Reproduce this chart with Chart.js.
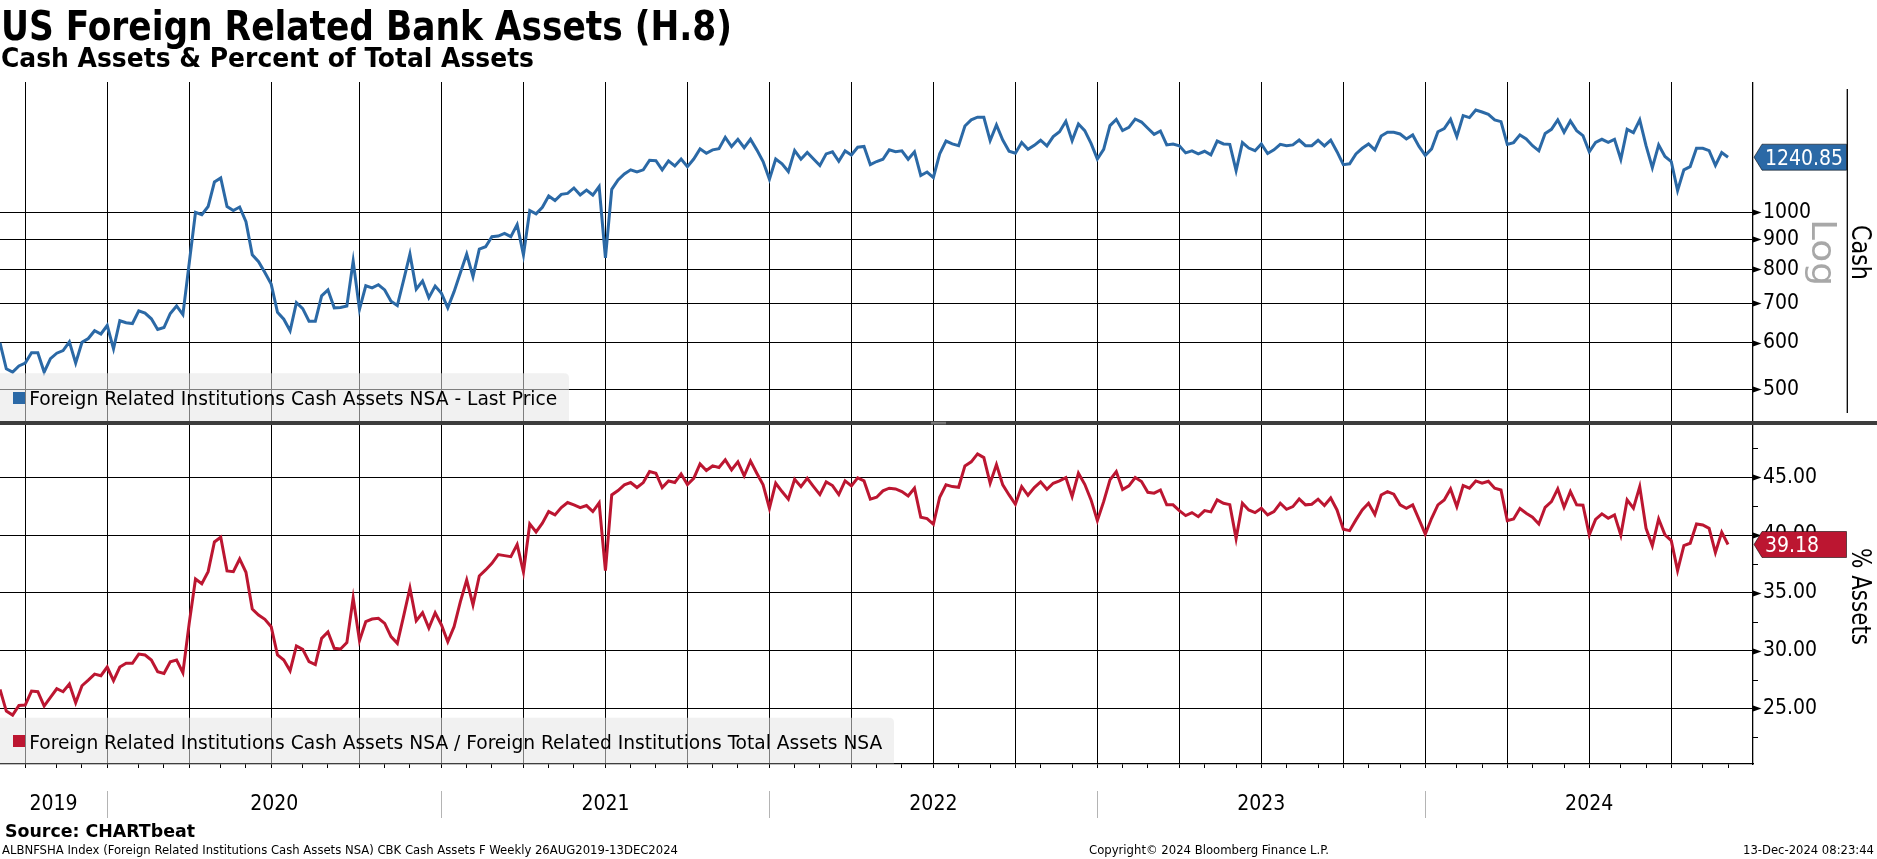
<!DOCTYPE html>
<html lang="en"><head><meta charset="utf-8"><title>US Foreign Related Bank Assets (H.8)</title>
<script src="https://cdn.jsdelivr.net/npm/chart.js@4.4.1/dist/chart.umd.min.js"></script>
<style>
html,body{margin:0;padding:0;background:#fff;}
body{width:1877px;height:859px;position:relative;overflow:hidden;}
canvas{position:absolute;left:0;display:block;}
#cTop{top:82px;width:1877px;height:339px;}
#cBot{top:425px;width:1877px;height:434px;}
#ov{position:absolute;left:0;top:0;pointer-events:none;}
</style></head><body>
<canvas id="cTop" width="1877" height="339"></canvas>
<canvas id="cBot" width="1877" height="434"></canvas>
<svg id="ov" width="1877" height="859" xmlns="http://www.w3.org/2000/svg"></svg>
<script>
// ---------------- DATA ----------------
const firstWeek = '2019-09-04';           // first weekly (Wednesday) observation shown
const cashAssets = [
 600, 542, 535, 548, 554, 577, 577, 535, 564, 576,
 582, 602, 554, 601, 610, 629, 621, 642, 586, 654,
 649, 647, 680, 674, 659, 632, 637, 673, 693, 670,
 819, 1000, 991, 1023, 1126, 1144, 1023, 1007, 1021, 964,
 847, 824, 790, 755, 676, 658, 629, 702, 686, 653,
 653, 721, 738, 688, 689, 693, 826, 684, 750, 744,
 753, 738, 706, 694, 767, 849, 740, 764, 716, 749,
 728, 688, 733, 789, 849, 777, 866, 874, 909, 911,
 921, 909, 953, 847, 1007, 994, 1020, 1066, 1047, 1073,
 1077, 1100, 1070, 1091, 1070, 1106, 837, 1094, 1135, 1162,
 1181, 1171, 1181, 1226, 1224, 1181, 1223, 1199, 1232, 1196,
 1232, 1282, 1260, 1277, 1283, 1341, 1294, 1331, 1288, 1331,
 1277, 1220, 1138, 1232, 1209, 1173, 1273, 1231, 1264, 1232,
 1201, 1257, 1267, 1221, 1272, 1252, 1290, 1294, 1205, 1220,
 1231, 1277, 1268, 1272, 1231, 1267, 1155, 1171, 1146, 1257,
 1322, 1307, 1298, 1402, 1436, 1451, 1451, 1324, 1408, 1327,
 1270, 1260, 1314, 1280, 1300, 1326, 1297, 1345, 1371, 1428,
 1324, 1413, 1377, 1310, 1232, 1280, 1404, 1439, 1377, 1395,
 1441, 1424, 1390, 1357, 1375, 1302, 1307, 1298, 1262, 1272,
 1257, 1270, 1252, 1322, 1307, 1305, 1177, 1314, 1286, 1273,
 1307, 1259, 1277, 1305, 1298, 1302, 1327, 1298, 1298, 1326,
 1297, 1327, 1268, 1205, 1209, 1257, 1285, 1307, 1277, 1348,
 1368, 1368, 1359, 1333, 1354, 1294, 1250, 1282, 1371, 1388,
 1439, 1345, 1460, 1449, 1493, 1481, 1468, 1436, 1426, 1305,
 1314, 1354, 1333, 1298, 1272, 1362, 1384, 1436, 1368, 1430,
 1377, 1350, 1267, 1315, 1331, 1315, 1331, 1231, 1384, 1366,
 1436, 1298, 1191, 1302, 1244, 1220, 1089, 1181, 1196, 1285,
 1285, 1273, 1202, 1264, 1240.85
];
const pctOfAssets = [
 26.64, 24.77, 24.42, 25.26, 25.29, 26.50, 26.44, 25.20, 25.95, 26.70,
 26.44, 27.11, 25.49, 26.96, 27.45, 27.97, 27.83, 28.58, 27.40, 28.58,
 28.90, 28.90, 29.70, 29.62, 29.19, 28.18, 28.03, 29.04, 29.19, 28.09,
 32.36, 36.20, 35.79, 36.83, 39.40, 39.81, 36.89, 36.83, 37.93, 36.78,
 33.60, 33.08, 32.71, 32.07, 29.62, 29.19, 28.26, 30.40, 30.11, 29.04,
 28.78, 31.06, 31.61, 30.20, 30.14, 30.69, 34.55, 30.86, 32.50, 32.73,
 32.79, 32.36, 31.21, 30.63, 32.99, 35.42, 32.59, 33.28, 31.96, 33.28,
 32.22, 30.77, 32.07, 34.24, 36.11, 33.95, 36.46, 36.98, 37.55, 38.31,
 38.22, 38.13, 39.17, 36.80, 40.96, 40.27, 41.02, 42.03, 41.74, 42.37,
 42.81, 42.61, 42.37, 42.55, 42.03, 42.78, 36.92, 43.47, 43.85, 44.34,
 44.54, 44.11, 44.54, 45.49, 45.35, 44.11, 44.68, 44.54, 45.29, 44.37,
 44.91, 46.15, 45.58, 45.98, 45.84, 46.50, 45.64, 46.33, 45.12, 46.41,
 45.35, 44.34, 42.32, 44.48, 43.76, 43.10, 44.83, 44.19, 44.91, 44.19,
 43.50, 44.60, 44.28, 43.50, 44.68, 44.25, 44.94, 44.68, 43.10, 43.27,
 43.82, 44.05, 43.99, 43.76, 43.38, 44.05, 41.54, 41.42, 40.93, 43.27,
 44.34, 44.19, 44.13, 45.98, 46.33, 47.02, 46.70, 44.48, 46.10, 44.34,
 43.47, 42.66, 44.19, 43.44, 44.11, 44.60, 43.96, 44.48, 44.68, 44.97,
 43.33, 45.35, 44.39, 43.04, 41.25, 42.89, 44.77, 45.49, 43.93, 44.25,
 44.97, 44.63, 43.70, 43.62, 43.90, 42.61, 42.61, 42.11, 41.68, 41.94,
 41.59, 42.11, 42.00, 43.04, 42.75, 42.63, 39.69, 42.75, 42.17, 41.94,
 42.32, 41.74, 42.03, 42.75, 42.23, 42.46, 43.12, 42.61, 42.66, 43.10,
 42.55, 43.21, 42.17, 40.50, 40.38, 41.31, 42.17, 42.75, 41.77, 43.47,
 43.76, 43.53, 42.61, 42.32, 42.61, 41.36, 40.09, 41.45, 42.61, 43.04,
 43.99, 42.46, 44.28, 44.05, 44.68, 44.48, 44.65, 44.05, 43.90, 41.25,
 41.39, 42.29, 41.88, 41.54, 40.96, 42.40, 42.89, 43.99, 42.40, 43.76,
 42.61, 42.58, 40.01, 41.36, 41.83, 41.45, 41.74, 39.98, 43.04, 42.32,
 44.19, 40.58, 39.08, 41.39, 40.01, 39.52, 36.92, 39.08, 39.29, 40.96,
 40.87, 40.58, 38.48, 40.24, 39.18
];
const cashTicks = [500, 600, 700, 800, 900, 1000];
const pctTicks = [25, 30, 35, 40, 45];
const pctMinorTicks = [22.5, 27.5, 32.5, 37.5, 42.5, 47.5];

const TITLE = 'US Foreign Related Bank Assets (H.8)';
const SUBTITLE = 'Cash Assets & Percent of Total Assets';
const cashLabel = 'Foreign Related Institutions Cash Assets NSA - Last Price';
const pctLabel = 'Foreign Related Institutions Cash Assets NSA / Foreign Related Institutions Total Assets NSA';

// ---------------- LAYOUT / STYLE ----------------
const FONT = "'DejaVu Sans Condensed','Liberation Sans',Arial,sans-serif";
const BLUE = '#2b69a6', RED = '#bc1631';
const X_MAX = 277.96;                 // visible weeks on x axis
const CASH_RANGE = [441.7, 1665.7];
const PCT_RANGE = [20.19, 49.52];
const AXIS_W = 124;

// weekly dates -> month / quarter / year starts (index based axis)
const t0 = Date.parse(firstWeek + 'T00:00:00Z');
const weekDates = cashAssets.map((_, i) => new Date(t0 + i * 7 * 86400000));
const monthStarts = [], quarterStarts = [], yearStarts = [];
for (let i = 1; i < weekDates.length; i++) {
  const m = weekDates[i].getUTCMonth();
  if (m !== weekDates[i - 1].getUTCMonth()) {
    monthStarts.push(i);
    if (m % 3 === 0) quarterStarts.push(i);
    if (m === 0) yearStarts.push(i);
  }
}
const bounds = [0, ...yearStarts, X_MAX];
const yearSpans = [];
for (let k = 0; k < bounds.length - 1; k++) {
  const idx = Math.min(Math.ceil(bounds[k]), weekDates.length - 1);
  yearSpans.push({ center: (bounds[k] + bounds[k + 1]) / 2, label: String(weekDates[idx].getUTCFullYear()) });
}

// -------------- plugins ----------------
const axisMarks = {
  id: 'axisMarks',
  afterDraw(chart, args, opts) {
    const { ctx } = chart;
    const y = chart.scales.y;
    const x0 = y.left;
    ctx.save();
    ctx.fillStyle = '#000';
    (opts.major || []).forEach(v => {
      const py = Math.round(y.getPixelForValue(v)) + 0.5;
      ctx.beginPath();
      ctx.moveTo(x0, py - 3); ctx.lineTo(x0 + 8.5, py); ctx.lineTo(x0, py + 3);
      ctx.closePath(); ctx.fill();
    });
    ctx.strokeStyle = '#000'; ctx.lineWidth = 1;
    (opts.minor || []).forEach(v => {
      const py = Math.round(y.getPixelForValue(v)) + 0.5;
      ctx.beginPath(); ctx.moveTo(x0, py); ctx.lineTo(x0 + 5, py); ctx.stroke();
    });
    if (opts.tag) {
      const v = opts.tag.value;
      const py = y.getPixelForValue(v);
      const L = x0 + 1, tip = 8, R = x0 + 93.5, h = 13;
      ctx.beginPath();
      ctx.moveTo(L, py); ctx.lineTo(L + tip, py - h); ctx.lineTo(R, py - h);
      ctx.lineTo(R, py + h); ctx.lineTo(L + tip, py + h); ctx.closePath();
      ctx.fillStyle = opts.tag.color; ctx.fill();
      ctx.strokeStyle = 'rgba(0,0,0,0.55)'; ctx.lineWidth = 1; ctx.stroke();
      ctx.fillStyle = '#fff';
      ctx.font = '21px ' + FONT;
      ctx.textBaseline = 'alphabetic'; ctx.textAlign = 'left';
      ctx.fillText(v.toFixed(2), x0 + 12, py + 7.5);
    }
    if (opts.yearSeparators) {
      const xs = chart.scales.x;
      ctx.strokeStyle = '#b4b4b4'; ctx.lineWidth = 1;
      yearStarts.forEach(i => {
        const px = Math.round(xs.getPixelForValue(i)) + 0.5;
        ctx.beginPath(); ctx.moveTo(px, xs.top + 27); ctx.lineTo(px, xs.top + 54); ctx.stroke();
      });
    }
    ctx.restore();
  }
};

const TRANSP = 'rgba(0,0,0,0)';

// -------------- top chart (cash, log) ----------------
new Chart(document.getElementById('cTop'), {
  type: 'line',
  data: { datasets: [{
    label: cashLabel,
    data: cashAssets.map((v, i) => ({ x: i, y: v })),
    borderColor: BLUE, backgroundColor: BLUE, borderWidth: 3,
    pointRadius: 0, tension: 0, fill: false
  }] },
  options: {
    responsive: false, animation: false, maintainAspectRatio: false,
    layout: { padding: 0 },
    plugins: {
      legend: { display: false }, tooltip: { enabled: false }, title: { display: false },
      axisMarks: { major: cashTicks, tag: { value: cashAssets[cashAssets.length - 1], color: BLUE } }
    },
    scales: {
      x: {
        type: 'linear', min: 0, max: X_MAX,
        afterBuildTicks: s => { s.ticks = quarterStarts.map(v => ({ value: v })); },
        afterFit: s => { s.height = 0; s.paddingLeft = 0; s.paddingRight = 0; },
        grid: { color: '#000', lineWidth: 1, drawTicks: false },
        border: { display: false },
        ticks: { display: false }
      },
      y: {
        type: 'logarithmic', position: 'right', min: CASH_RANGE[0], max: CASH_RANGE[1],
        afterBuildTicks: s => { s.ticks = cashTicks.map(v => ({ value: v })); },
        afterFit: s => { s.width = AXIS_W; s.paddingTop = 0; s.paddingBottom = 0; },
        grid: { color: '#000', lineWidth: 1, drawTicks: true, tickLength: 8, tickColor: TRANSP },
        border: { color: '#000', width: 1.3 },
        ticks: { callback: v => String(v), color: '#000', font: { family: FONT, size: 21 }, padding: 2, autoSkip: false }
      }
    }
  },
  plugins: [axisMarks]
});

// -------------- bottom chart (% of assets) ----------------
new Chart(document.getElementById('cBot'), {
  type: 'line',
  data: { datasets: [{
    label: pctLabel,
    data: pctOfAssets.map((v, i) => ({ x: i, y: v })),
    borderColor: RED, backgroundColor: RED, borderWidth: 3,
    pointRadius: 0, tension: 0, fill: false
  }] },
  options: {
    responsive: false, animation: false, maintainAspectRatio: false,
    layout: { padding: 0 },
    plugins: {
      legend: { display: false }, tooltip: { enabled: false }, title: { display: false },
      axisMarks: { major: pctTicks, minor: pctMinorTicks, yearSeparators: true,
                   tag: { value: pctOfAssets[pctOfAssets.length - 1], color: RED } }
    },
    scales: {
      x: {
        type: 'linear', min: 0, max: X_MAX,
        afterBuildTicks: s => {
          const t = monthStarts.map(v => ({ value: v, kind: quarterStarts.includes(v) ? 'q' : 'm' }));
          yearSpans.forEach(y => t.push({ value: y.center, kind: 'y', lbl: y.label }));
          s.ticks = t;
        },
        afterFit: s => { s.height = 95; s.paddingLeft = 0; s.paddingRight = 0; },
        grid: {
          color: c => (c.tick && c.tick.kind === 'q') ? '#000' : TRANSP,
          lineWidth: 1, drawTicks: true, tickLength: 4,
          tickColor: c => (c.tick && c.tick.kind !== 'y') ? '#000' : TRANSP
        },
        border: { display: true, color: '#000', width: 1.3 },
        ticks: {
          autoSkip: false, maxRotation: 0, minRotation: 0, padding: 24,
          color: '#000', font: { family: FONT, size: 21 },
          callback: (v, i, ticks) => ticks[i].lbl || ''
        }
      },
      y: {
        type: 'linear', position: 'right', min: PCT_RANGE[0], max: PCT_RANGE[1],
        afterBuildTicks: s => { s.ticks = pctTicks.map(v => ({ value: v })); },
        afterFit: s => { s.width = AXIS_W; s.paddingTop = 0; s.paddingBottom = 0; },
        grid: { color: '#000', lineWidth: 1, drawTicks: true, tickLength: 8, tickColor: TRANSP },
        border: { color: '#000', width: 1.3 },
        ticks: { callback: v => v.toFixed(2), color: '#000', font: { family: FONT, size: 21 }, padding: 2, autoSkip: false }
      }
    }
  },
  plugins: [axisMarks]
});

// -------------- overlay text (SVG) ----------------
const svg = document.getElementById('ov');
svg.setAttribute('font-family', FONT);
function add(tag, attrs, text) {
  const el = document.createElementNS('http://www.w3.org/2000/svg', tag);
  for (const k in attrs) el.setAttribute(k, attrs[k]);
  if (text !== undefined) el.textContent = text;
  svg.appendChild(el);
  return el;
}
const fit = { lengthAdjust: 'spacingAndGlyphs' };
add('text', { x: 1, y: 39.5, 'font-size': 40, 'font-weight': 'bold', textLength: 731, ...fit }, TITLE);
add('text', { x: 1, y: 67, 'font-size': 27, 'font-weight': 'bold', textLength: 533, ...fit }, SUBTITLE);

// panel separator
add('rect', { x: 0, y: 421, width: 1877, height: 4, fill: '#3d3d3d' });
add('line', { x1: 931, x2: 946, y1: 422.3, y2: 422.3, stroke: '#9a9a9a', 'stroke-width': 0.8 });
add('line', { x1: 931, x2: 946, y1: 423.8, y2: 423.8, stroke: '#9a9a9a', 'stroke-width': 0.8 });

// legends
add('path', { d: 'M0,373.3 H564 Q569,373.3 569,378.3 V421 H0 Z', fill: 'rgba(230,230,230,0.55)' });
add('rect', { x: 13, y: 392, width: 12, height: 12, fill: BLUE });
add('text', { x: 29.3, y: 405, 'font-size': 20, fill: '#000', textLength: 528, ...fit }, cashLabel);
add('path', { d: 'M0,717.7 H889 Q894,717.7 894,722.7 V763.5 H0 Z', fill: 'rgba(230,230,230,0.55)' });
add('rect', { x: 13, y: 735, width: 12, height: 12, fill: RED });
add('text', { x: 29.3, y: 749, 'font-size': 20, fill: '#000', textLength: 853, ...fit }, pctLabel);

// right-hand axis titles
add('line', { x1: 1847.3, x2: 1847.3, y1: 89, y2: 413, stroke: '#000', 'stroke-width': 1.3 });
add('text', { transform: 'translate(1851.7,225) rotate(90)', 'font-size': 26, textLength: 55, ...fit }, 'Cash');
add('text', { transform: 'translate(1812,219) rotate(90)', 'font-size': 34, fill: '#a8a8a8', textLength: 67, ...fit }, 'Log');
add('text', { transform: 'translate(1851.7,548) rotate(90)', 'font-size': 26, textLength: 97, ...fit }, '% Assets');

// footer
add('text', { x: 5, y: 837, 'font-size': 18, 'font-weight': 'bold', textLength: 190, ...fit }, 'Source: CHARTbeat');
add('text', { x: 2, y: 854, 'font-size': 12.5, textLength: 676, ...fit }, 'ALBNFSHA Index (Foreign Related Institutions Cash Assets NSA) CBK Cash Assets F  Weekly 26AUG2019-13DEC2024');
add('text', { x: 1089, y: 854, 'font-size': 12.5, textLength: 240, ...fit }, 'Copyright\u00A9 2024 Bloomberg Finance L.P.');
add('text', { x: 1743, y: 854, 'font-size': 12.5, textLength: 131, ...fit }, '13-Dec-2024 08:23:44');
</script>
</body></html>
